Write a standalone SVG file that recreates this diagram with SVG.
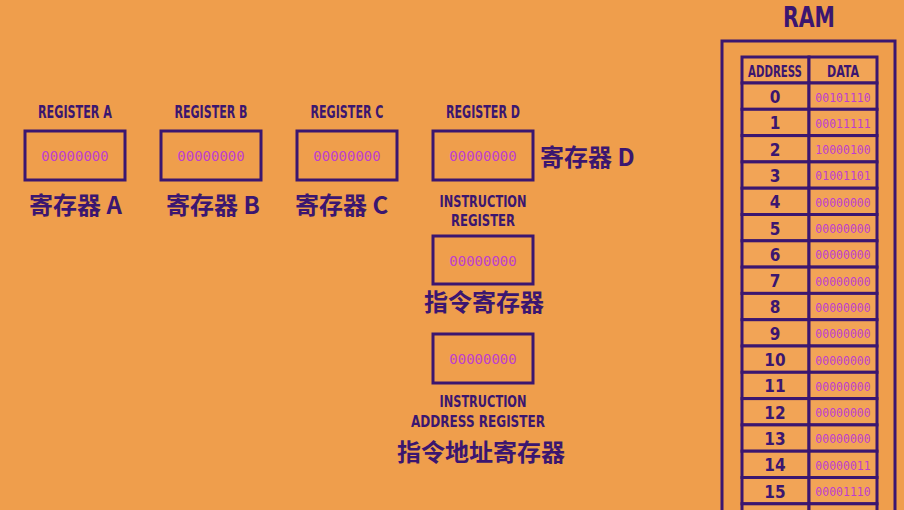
<svg xmlns="http://www.w3.org/2000/svg" width="904" height="510" viewBox="0 0 904 510">
<style>
.bg{fill:#EF9E4C}
.box{fill:none;stroke:#3B1670;stroke-width:3}
.lbl{font-family:"DejaVu Sans Condensed","DejaVu Sans",sans-serif;font-weight:bold;font-size:18px;fill:#3B1670;text-anchor:middle}
.lbl2{font-size:15.5px}
.cn{font-family:"Noto Sans CJK SC","Liberation Sans",sans-serif;font-weight:bold;font-size:24px;fill:#3B1670}
.val{font-family:"DejaVu Sans Mono","Liberation Mono",monospace;font-size:14px;fill:#BE3ECE;text-anchor:middle}
.addr{font-family:"DejaVu Sans Condensed","DejaVu Sans",sans-serif;font-weight:bold;font-size:17px;fill:#3B1670;text-anchor:middle}
.cell{fill:#F2A456;stroke:#3B1670;stroke-width:3}
</style>
<rect class="bg" x="0" y="0" width="904" height="510"/>

<g id="registerA">
<text class="lbl" x="75" y="118" textLength="74" lengthAdjust="spacingAndGlyphs">REGISTER A</text>
<rect class="box" x="25" y="131" width="100" height="49"/>
<text class="val" x="75" y="161">00000000</text>
<text class="cn" x="29" y="214">寄存器 A</text>
</g>
<g id="registerB">
<text class="lbl" x="211" y="118" textLength="73" lengthAdjust="spacingAndGlyphs">REGISTER B</text>
<rect class="box" x="161" y="131" width="100" height="49"/>
<text class="val" x="211" y="161">00000000</text>
<text class="cn" x="166" y="214">寄存器 B</text>
</g>
<g id="registerC">
<text class="lbl" x="347" y="118" textLength="73" lengthAdjust="spacingAndGlyphs">REGISTER C</text>
<rect class="box" x="297" y="131" width="100" height="49"/>
<text class="val" x="347" y="161">00000000</text>
<text class="cn" x="295" y="214">寄存器 C</text>
</g>
<g id="registerD">
<text class="lbl" x="483" y="118" textLength="74" lengthAdjust="spacingAndGlyphs">REGISTER D</text>
<rect class="box" x="433" y="131" width="100" height="49"/>
<text class="val" x="483" y="161">00000000</text>
<text class="cn" x="540" y="166">寄存器 D</text>
</g>
<g id="instructionRegister">
<text class="lbl lbl2" x="483" y="207" textLength="87" lengthAdjust="spacingAndGlyphs">INSTRUCTION</text>
<text class="lbl lbl2" x="483" y="226" textLength="64" lengthAdjust="spacingAndGlyphs">REGISTER</text>
<rect class="box" x="433" y="236" width="100" height="48"/>
<text class="val" x="483" y="266">00000000</text>
<text class="cn" x="424" y="311">指令寄存器</text>
</g>
<g id="instructionAddressRegister">
<rect class="box" x="433" y="334" width="100" height="49"/>
<text class="val" x="483" y="364">00000000</text>
<text class="lbl lbl2" x="483" y="407" textLength="87" lengthAdjust="spacingAndGlyphs">INSTRUCTION</text>
<text class="lbl lbl2" x="478" y="427" textLength="134" lengthAdjust="spacingAndGlyphs">ADDRESS REGISTER</text>
<text class="cn" x="397" y="461">指令地址寄存器</text>
</g>

<g id="ram">
<text class="addr" x="809" y="27" style="font-size:28px" textLength="52" lengthAdjust="spacingAndGlyphs">RAM</text>
<rect class="box" x="722" y="41" width="173" height="480"/>
<rect class="cell" x="742" y="57" width="67" height="26"/>
<rect class="cell" x="809" y="57" width="68" height="26"/>
<text class="addr" x="775" y="77" style="font-size:15px" textLength="54" lengthAdjust="spacingAndGlyphs">ADDRESS</text>
<text class="addr" x="843" y="77" style="font-size:15px" textLength="32" lengthAdjust="spacingAndGlyphs">DATA</text>
<g>
<rect class="cell" x="742" y="83" width="67" height="26.3"/><rect class="cell" x="809" y="83" width="68" height="26.3"/>
<rect class="cell" x="742" y="109.3" width="67" height="26.3"/><rect class="cell" x="809" y="109.3" width="68" height="26.3"/>
<rect class="cell" x="742" y="135.6" width="67" height="26.3"/><rect class="cell" x="809" y="135.6" width="68" height="26.3"/>
<rect class="cell" x="742" y="161.9" width="67" height="26.3"/><rect class="cell" x="809" y="161.9" width="68" height="26.3"/>
<rect class="cell" x="742" y="188.2" width="67" height="26.3"/><rect class="cell" x="809" y="188.2" width="68" height="26.3"/>
<rect class="cell" x="742" y="214.5" width="67" height="26.3"/><rect class="cell" x="809" y="214.5" width="68" height="26.3"/>
<rect class="cell" x="742" y="240.8" width="67" height="26.3"/><rect class="cell" x="809" y="240.8" width="68" height="26.3"/>
<rect class="cell" x="742" y="267.1" width="67" height="26.3"/><rect class="cell" x="809" y="267.1" width="68" height="26.3"/>
<rect class="cell" x="742" y="293.4" width="67" height="26.3"/><rect class="cell" x="809" y="293.4" width="68" height="26.3"/>
<rect class="cell" x="742" y="319.7" width="67" height="26.3"/><rect class="cell" x="809" y="319.7" width="68" height="26.3"/>
<rect class="cell" x="742" y="346" width="67" height="26.3"/><rect class="cell" x="809" y="346" width="68" height="26.3"/>
<rect class="cell" x="742" y="372.3" width="67" height="26.3"/><rect class="cell" x="809" y="372.3" width="68" height="26.3"/>
<rect class="cell" x="742" y="398.6" width="67" height="26.3"/><rect class="cell" x="809" y="398.6" width="68" height="26.3"/>
<rect class="cell" x="742" y="424.9" width="67" height="26.3"/><rect class="cell" x="809" y="424.9" width="68" height="26.3"/>
<rect class="cell" x="742" y="451.2" width="67" height="26.3"/><rect class="cell" x="809" y="451.2" width="68" height="26.3"/>
<rect class="cell" x="742" y="477.5" width="67" height="26.3"/><rect class="cell" x="809" y="477.5" width="68" height="26.3"/>
<rect class="cell" x="742" y="503.8" width="67" height="26.3"/><rect class="cell" x="809" y="503.8" width="68" height="26.3"/>
</g>
<g class="addr">
<text x="775" y="103">0</text>
<text x="775" y="129.3">1</text>
<text x="775" y="155.6">2</text>
<text x="775" y="181.9">3</text>
<text x="775" y="208.2">4</text>
<text x="775" y="234.5">5</text>
<text x="775" y="260.8">6</text>
<text x="775" y="287.1">7</text>
<text x="775" y="313.4">8</text>
<text x="775" y="339.7">9</text>
<text x="775" y="366">10</text>
<text x="775" y="392.3">11</text>
<text x="775" y="418.6">12</text>
<text x="775" y="444.9">13</text>
<text x="775" y="471.2">14</text>
<text x="775" y="497.5">15</text>
</g>
<g class="val" style="font-size:11.5px">
<text x="843" y="101.5">00101110</text>
<text x="843" y="127.8">00011111</text>
<text x="843" y="154.1">10000100</text>
<text x="843" y="180.4">01001101</text>
<text x="843" y="206.7">00000000</text>
<text x="843" y="233">00000000</text>
<text x="843" y="259.3">00000000</text>
<text x="843" y="285.6">00000000</text>
<text x="843" y="311.9">00000000</text>
<text x="843" y="338.2">00000000</text>
<text x="843" y="364.5">00000000</text>
<text x="843" y="390.8">00000000</text>
<text x="843" y="417.1">00000000</text>
<text x="843" y="443.4">00000000</text>
<text x="843" y="469.7">00000011</text>
<text x="843" y="496">00001110</text>
</g>
</g>
<g id="connectors"/>
</svg>
